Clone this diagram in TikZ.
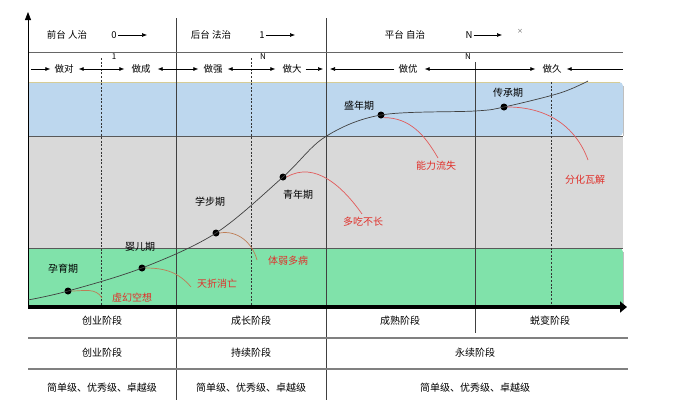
\documentclass[tikz,border=0pt]{standalone}
\usepackage{fontspec}
\setmainfont{Noto Sans CJK SC}
\usetikzlibrary{arrows.meta}
\definecolor{bandblue}{RGB}{189,215,238}
\definecolor{bandgray}{RGB}{217,217,217}
\definecolor{bandgreen}{RGB}{128,226,170}
\definecolor{tanline}{RGB}{214,204,150}
\definecolor{failred}{RGB}{224,48,42}
\definecolor{curvered}{RGB}{226,90,90}
\definecolor{curvebrown}{RGB}{190,125,85}
\begin{document}
\begin{tikzpicture}[x=1pt,y=-1pt,
  lbl/.style={font=\fontsize{10}{11}\selectfont, inner sep=1pt},
  toplbl/.style={font=\fontsize{9.5}{10}\selectfont, inner sep=1pt},
  small/.style={font=\fontsize{8}{9}\selectfont, inner sep=0.5pt},
  fail/.style={lbl, text=failred},
  dot/.style={circle, fill=black, inner sep=0pt, minimum size=7pt},
  grid/.style={draw=black!75, line width=0.6pt},
  dgrid/.style={draw=black!80, line width=0.6pt, dash pattern=on 2pt off 1.6pt},
  hline/.style={draw=black!50, line width=1.2pt},
  arr/.style={-{Latex[length=5pt,width=4pt]}, line width=0.6pt},
  darr/.style={{Latex[length=5pt,width=4pt]}-{Latex[length=5pt,width=4pt]}, line width=0.6pt, shorten <=4pt, shorten >=6pt},
  lowc/.style={draw=curvebrown, line width=0.7pt},
  highc/.style={draw=curvered, line width=0.7pt},
]
\useasboundingbox (0,0) rectangle (675,418);
\fill[white] (0,0) rectangle (675,418);

% bands
\fill[bandblue] (28,136) -- (28,82) [rounded corners=4pt] -- (623,82) -- (623,136) [sharp corners] -- cycle;
\fill[bandgray] (28,136) rectangle (623,248);
\fill[bandgreen] (28,306) -- (28,248) [rounded corners=4pt] -- (623,248) -- (623,306) [sharp corners] -- cycle;
\draw[tanline, line width=1pt] (28,82) -- (620,82);
\draw[black!65, line width=0.9pt] (28,136) -- (623,136);
\draw[black!65, line width=0.9pt] (28,248) -- (623,248);
\draw[black!25, line width=0.5pt] (623,86) -- (623,136) (623,252) -- (623,304);

% grid lines
\draw[grid] (176,18) -- (176,400);
\draw[grid] (326,18) -- (326,400);
\draw[grid] (475,62) -- (475,333);
\draw[dgrid] (101,58) -- (101,307);
\draw[dgrid] (251,58) -- (251,307);
\draw[dgrid] (551,82) -- (551,307);
\draw[draw=black!60, line width=0.8pt] (28,52) -- (623,52);
\draw[hline] (28,338) -- (628,338);
\draw[hline] (28,369) -- (628,369);

% axes
\draw[line width=0.8pt, -{Triangle[length=8pt,width=6pt]}] (28,307) -- (28,12);
\draw[line width=3.5pt, -{Triangle[length=7pt,width=11pt]}] (28,307) -- (627,307);

% top row
\node[toplbl] (qt) at (67,35) {前台 人治};
\node[toplbl] (t0) at (114,35) {0};
\coordinate (t0e) at (147,35);
\draw[arr] (t0) -- (t0e);
\node[toplbl] (ht) at (211,35) {后台 法治};
\node[toplbl] (t1) at (262,35) {1};
\coordinate (t1e) at (295,35);
\draw[arr] (t1) -- (t1e);
\node[toplbl] (pt) at (405,35) {平台 自治};
\node[toplbl] (tn) at (469,35) {N};
\coordinate (tne) at (502,35);
\draw[arr] (tn) -- (tne);
\node[font=\fontsize{6}{7}\selectfont, inner sep=0pt, text=black!70] (tx) at (520,31) {×};

% second row
\node[small] (m1) at (114,57) {1};
\node[small] (mn1) at (263,57) {N};
\node[small] (mn2) at (468,57) {N};
\node[toplbl] (a1) at (64,69) {做对};
\node[toplbl] (a2) at (141,69) {做成};
\node[toplbl] (a3) at (213,69) {做强};
\node[toplbl] (a4) at (292,69) {做大};
\node[toplbl] (a5) at (408,69) {做优};
\node[toplbl] (a6) at (552,69) {做久};
\coordinate (s0) at (31,69);
\coordinate (s1) at (323,69);
\coordinate (s2) at (330,69);
\coordinate (s3) at (623,69);
\draw[arr, shorten >=3pt] (s0) -- (a1);
\draw[darr] (a1) -- (a2);
\draw[darr, shorten <=6pt, shorten >=4pt] (a2) -- (a3);
\draw[darr] (a3) -- (a4);
\draw[arr, shorten <=3pt] (a4) -- (s1);
\draw[arr, shorten <=3pt] (a5) -- (s2);
\draw[darr, shorten <=6pt, shorten >=6pt] (a5) -- (a6);
\draw[arr, shorten >=4pt] (s3) -- (a6);

% growth curve
\coordinate (c0) at (28,300);
\coordinate (c5) at (325,137);
\coordinate (c6) at (475,111);
\coordinate (c7) at (560,93);
\coordinate (c8) at (588,81);
\node[dot] (d1) at (68,291) {};
\node[dot] (d2) at (142,268) {};
\node[dot] (d3) at (216,233) {};
\node[dot] (d4) at (283,177) {};
\node[dot] (d5) at (381,115) {};
\node[dot] (d6) at (504,107) {};
\draw[black!75, line width=0.7pt] plot[smooth, tension=0.55] coordinates {(c0) (d1.center) (d2.center) (d3.center) (d4.center) (c5) (d5.center) (c6) (d6.center) (c7) (c8)};

% stage labels
\node[lbl] (p1) at (63,269) {孕育期};
\node[lbl] (p2) at (140,247) {婴儿期};
\node[lbl] (p3) at (210,202) {学步期};
\node[lbl] (p4) at (298,195) {青年期};
\node[lbl] (p5) at (359,106) {盛年期};
\node[lbl] (p6) at (508,93) {传承期};

% failure labels
\node[fail] (f1) at (132,298) {虚幻空想};
\node[fail] (f2) at (217,284) {天折消亡};
\node[fail] (f3) at (288,261) {体弱多病};
\node[fail] (f4) at (363,222) {多吃不长};
\node[fail] (f5) at (436,166) {能力流失};
\node[fail] (f6) at (585,180) {分化瓦解};
\coordinate (e1) at (102,298);
\coordinate (e2) at (191,287);
\coordinate (e3) at (257,260);
\coordinate (e4) at (362,214);
\coordinate (e5) at (438,158);
\coordinate (e6) at (588,160);
\draw[lowc] (d1.east) to[out=0,in=120] (e1);
\draw[lowc] (d2.east) to[out=0,in=130] (e2);
\draw[lowc] (d3.east) to[out=10,in=105] (e3);
\draw[highc] (d4.east) to[out=30,in=125] (e4);
\draw[highc] (d5.south east) to[out=0,in=120] (e5);
\draw[highc] (d6.east) to[out=0,in=110] (e6);

% bottom rows
\node[lbl] (r1a) at (102,321) {创业阶段};
\node[lbl] (r1b) at (251,321) {成长阶段};
\node[lbl] (r1c) at (400,321) {成熟阶段};
\node[lbl] (r1d) at (550,321) {蜕变阶段};
\node[lbl] (r2a) at (102,353) {创业阶段};
\node[lbl] (r2b) at (251,353) {持续阶段};
\node[lbl] (r2c) at (475,353) {永续阶段};
\node[lbl] (r3a) at (102,388) {简单级、优秀级、卓越级};
\node[lbl] (r3b) at (251,388) {简单级、优秀级、卓越级};
\node[lbl] (r3c) at (475,388) {简单级、优秀级、卓越级};
\end{tikzpicture}
\end{document}
